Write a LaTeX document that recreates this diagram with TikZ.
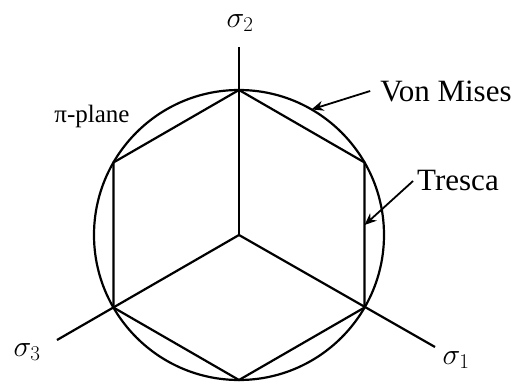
\RequirePackage{fix-cm}
\documentclass[tikz,border=0pt]{standalone}
\usepackage{fontspec}
\setmainfont{Liberation Serif}
\usetikzlibrary{arrows.meta}

\begin{document}
\begin{tikzpicture}[
    x=1pt, y=1pt,
    yieldline/.style={line width=2.2pt, black},
    axisline/.style={line width=2.2pt, black},
    tag/.style={font=\fontsize{31}{36}\selectfont, inner sep=4pt},
    stresslabel/.style={font=\fontsize{30}{34}\selectfont, inner sep=0pt},
    pointer/.style={-{Stealth[length=12pt, width=10pt]}, line width=1.8pt}
]
    % Frame
    \useasboundingbox (-239,-148) rectangle (286,235);

    % Centre and hexagon corners
    \coordinate (O) at (0,0);
    \foreach \a/\n in {90/top, 30/ur, -30/lr, -90/bot, -150/ll, 150/ul}
        \coordinate (\n) at (\a:145);

    % Axis ends
    \coordinate (s2end) at (0,188);
    \coordinate (s1end) at (196,-112);
    \coordinate (s3end) at (-182,-105);

    % Von Mises circle
    \draw[yieldline] (O) circle[radius=145];

    % Tresca hexagon
    \draw[yieldline] (top) -- (ur) -- (lr) -- (bot) -- (ll) -- (ul) -- cycle;

    % Axes
    \draw[axisline] (O) -- (s2end);
    \draw[axisline] (O) -- (s1end);
    \draw[axisline] (O) -- (s3end);

    % Axis labels
    \node[stresslabel] (s2) at (1,212) {$\sigma_2$};
    \node[stresslabel] (s1) at (217,-125) {$\sigma_1$};
    \node[stresslabel] (s3) at (-212,-117) {$\sigma_3$};

    % Text labels
    \node[tag, font=\fontsize{25}{30}\selectfont] (plane) at (-147,119) {π-plane};
    \node[tag, inner sep=10pt] (vm) at (207,144) {Von Mises};
    \node[tag, inner sep=4pt] (tr) at (219,54) {Tresca};

    % Pointers
    \coordinate (vmtip) at (60:145);
    \coordinate (trtip) at (125.6,10);
    \draw[pointer] (vm.west) -- (vmtip);
    \draw[pointer] (tr.west) -- (trtip);
\end{tikzpicture}
\end{document}
